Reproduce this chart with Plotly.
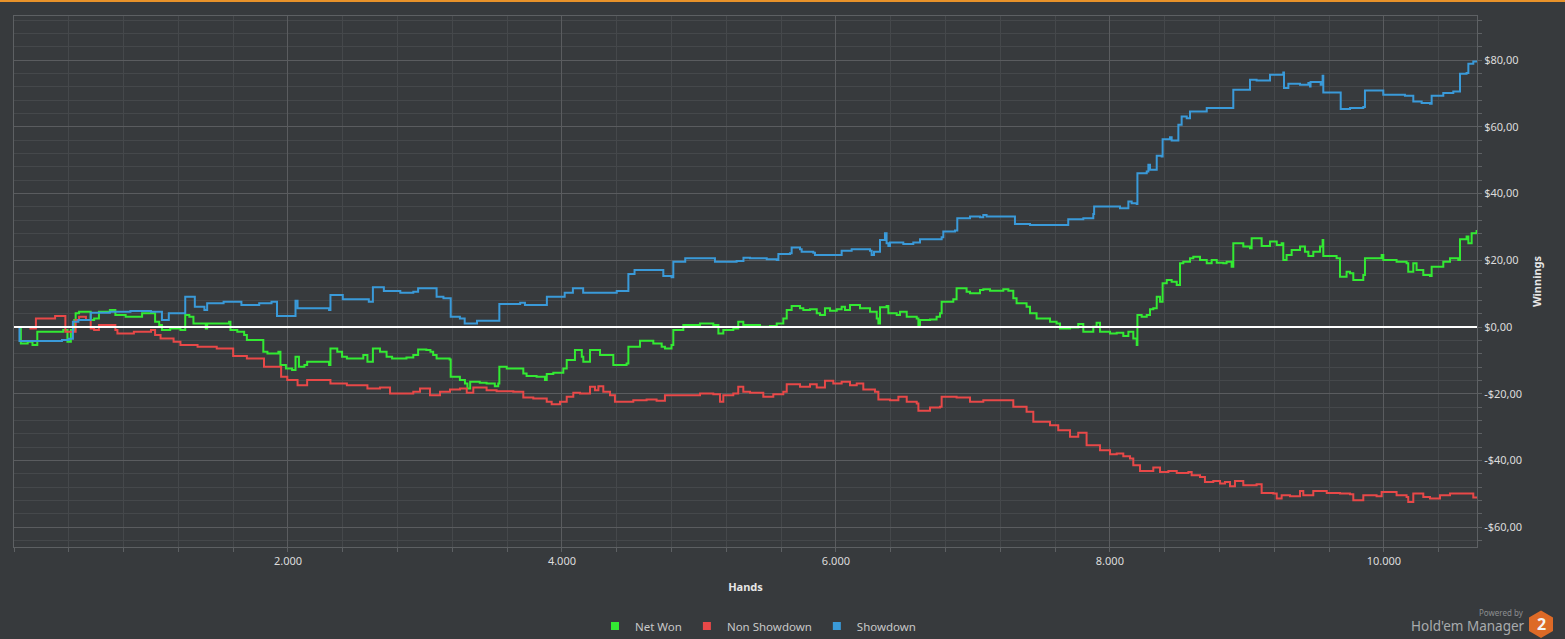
import plotly.graph_objects as go

# ---- data (hands, $ winnings) ----
sd_hands = [0, 40, 300, 350, 400, 430, 470, 560, 700, 850, 1000, 1080, 1130, 1250, 1320, 1390, 1410, 1530, 1660, 1790,
            1880, 1920, 2055, 2070, 2300, 2310, 2400, 2590, 2620, 2700, 2820, 2915, 2950, 3060, 3085, 3135, 3188, 3255,
            3290, 3380, 3543, 3695, 3730, 3890, 4020, 4080, 4155, 4400, 4485, 4530, 4705, 4740, 4800, 4813, 4900, 5117,
            5275, 5325, 5373, 5495, 5568, 5580, 5665, 5677, 5738, 5750, 5835, 5847, 6030, 6042, 6115, 6249, 6261, 6278,
            6322, 6358, 6370, 6383, 6395, 6492, 6565, 6614, 6711, 6772, 6784, 6869, 6886, 6979, 7052, 7076, 7100, 7295,
            7307, 7417, 7672, 7696, 7806, 7879, 7885, 8074, 8110, 8135, 8159, 8196, 8201, 8269, 8281, 8293, 8330, 8342,
            8378, 8385, 8439, 8451, 8488, 8500, 8524, 8561, 8585, 8682, 8707, 8889, 8901, 8974, 9023, 9071, 9144, 9169,
            9254, 9266, 9271, 9303, 9388, 9449, 9461, 9465, 9534, 9539, 9553, 9558, 9680, 9685, 9753, 9850, 9862, 9972,
            9996, 10154, 10215, 10276, 10337, 10349, 10434, 10507, 10543, 10556, 10604, 10617, 10653, 10677]
sd_values = [0, -4.2, -4.2, -3.9, -3.5, 1.6, 2.1, 4.3, 4.6, 4.8, 4.6, 2.1, 4.1, 9.1, 6.1, 5.1, 7.1, 7.6, 6.6, 7.1,
             7.6, 3.3, 7.9, 5.6, 5.1, 9.6, 8.3, 7.6, 11.9, 10.8, 10.3, 10.6, 11.6, 11.6, 9.1, 8.6, 3.1, 2.6,
             1.1, 1.9, 6.9, 7.3, 6.6, 9.1, 10.3, 11.6, 10.3, 10.8, 15.9, 17.1, 17.1, 15.3, 14.9, 19.6, 20.6, 19.6,
             19.8, 20.8, 20.6, 20.3, 20.1, 21.9, 22.1, 23.8, 23.3, 22.6, 22.3, 21.6, 21.6, 22.9, 23.3, 22.9, 21.6, 22.6,
             26.1, 28.1, 25.1, 24.3, 25.3, 24.9, 25.3, 26.3, 26.3, 26.9, 28.6, 28.9, 32.6, 33.1, 32.9, 33.6, 33.1, 33.1,
             30.9, 30.6, 30.6, 32.3, 32.6, 33.9, 36.1, 35.6, 35.6, 37.6, 37.1, 36.9, 46.1, 46.6, 48.6, 47.1, 47.1, 51.3,
             51.1, 56.3, 56.9, 55.9, 55.9, 60.6, 63.1, 62.6, 64.6, 64.6, 65.6, 65.6, 71.1, 71.1, 74.1, 73.9, 73.9, 75.6,
             75.6, 76.3, 71.6, 72.9, 72.6, 73.1, 72.1, 73.4, 73.4, 72.6, 75.3, 70.3, 70.3, 65.3, 65.6, 65.9, 70.9, 70.9,
             69.6, 69.3, 67.6, 67.1, 66.9, 69.3, 70.1, 70.6, 70.6, 75.9, 76.1, 78.9, 79.6, 79.9]

nsd_hands = [0, 120, 160, 290, 300, 365, 375, 425, 450, 475, 510, 525, 560, 585, 620, 730, 740, 755, 850, 875,
             970, 1000, 1030, 1070, 1140, 1165, 1215, 1310, 1340, 1480, 1590, 1600, 1680, 1700, 1800, 1825, 1950, 1995,
             2070, 2090, 2140, 2260, 2310, 2385, 2430, 2530, 2580, 2672, 2745, 2818, 2915, 2964, 3037, 3110, 3183, 3256,
             3305, 3353, 3450, 3523, 3645, 3718, 3791, 3889, 3925, 3986, 4035, 4083, 4132, 4205, 4241, 4266, 4302, 4351,
             4387, 4521, 4618, 4691, 4752, 4862, 5008, 5105, 5154, 5178, 5251, 5287, 5324, 5373, 5470, 5543, 5616, 5641,
             5738, 5811, 5860, 5920, 5981, 6042, 6103, 6152, 6200, 6285, 6310, 6395, 6456, 6517, 6590, 6602, 6687, 6760,
             6772, 6881, 6979, 7076, 7271, 7295, 7392, 7441, 7563, 7623, 7709, 7769, 7830, 7903, 7928, 8001, 8050, 8098,
             8147, 8171, 8220, 8293, 8317, 8366, 8427, 8488, 8573, 8597, 8658, 8694, 8755, 8804, 8840, 8877, 8913, 8974,
             9071, 9108, 9193, 9218, 9254, 9315, 9388, 9412, 9485, 9583, 9680, 9753, 9777, 9850, 9947, 9984, 10093,
             10166, 10178, 10215, 10288, 10337, 10410, 10483, 10580, 10653, 10677]
nsd_values = [0, -0.4, 2.6, 2.6, 3.3, 3.3, -1.4, -1.4, 2.1, 3.1, 3.1, 2.1, -0.4, -0.9, 0.6, 0.6, -0.9, -1.9, -1.9, -1.4,
              -1.4, -0.9, -2.4, -3.4, -3.4, -4.4, -5.4, -5.4, -5.9, -6.4, -6.4, -8.7, -8.7, -9.4, -9.4, -11.9, -14.9, -15.9,
              -17.4, -17.4, -15.9, -15.9, -16.9, -16.9, -17.4, -17.4, -18.4, -18.1, -19.9, -19.9, -19.4, -18.4, -20.4, -19.4, -18.7, -18.4,
              -19.7, -18.1, -18.9, -19.2, -19.4, -21.1, -21.4, -22.4, -23.1, -22.4, -20.9, -19.7, -19.9, -17.9, -18.9, -17.7, -19.4, -20.4,
              -22.4, -21.9, -21.7, -22.1, -20.4, -20.4, -19.9, -20.1, -22.4, -20.4, -19.9, -17.9, -19.4, -19.7, -20.9, -20.1, -19.4, -17.1,
              -17.9, -17.1, -18.1, -16.1, -16.9, -16.4, -17.4, -16.9, -18.7, -19.4, -21.7, -21.9, -20.9, -22.4, -22.9, -25.1, -24.1, -23.9,
              -20.9, -21.1, -22.4, -21.9, -21.9, -23.9, -25.4, -28.4, -29.4, -30.9, -32.9, -31.7, -35.4, -35.4, -36.9, -38.1, -37.9, -38.7,
              -39.4, -41.4, -43.1, -43.1, -42.1, -43.4, -43.1, -43.7, -43.4, -44.4, -44.9, -46.4, -46.1, -46.9, -46.4, -47.7, -46.1, -47.4,
              -47.1, -49.7, -49.9, -51.4, -50.4, -50.7, -49.1, -50.4, -49.1, -49.7, -49.9, -50.1, -51.9, -50.4, -50.7, -49.4, -50.4,
              -50.9, -52.4, -49.9, -50.9, -51.4, -50.4, -49.9, -49.9, -51.1, -51.4]

net_hands = [0, 50, 100, 135, 170, 340, 360, 390, 415, 440, 450, 475, 535, 560, 585, 620, 700, 740, 815, 935,
             1030, 1060, 1080, 1140, 1215, 1250, 1280, 1310, 1390, 1400, 1410, 1555, 1570, 1580, 1630, 1680, 1700, 1820,
             1850, 1930, 1945, 1985, 2030, 2055, 2080, 2120, 2140, 2280, 2300, 2310, 2360, 2395, 2430, 2550, 2580, 2620,
             2672, 2720, 2760, 2865, 2915, 2950, 3010, 3040, 3060, 3085, 3180, 3188, 3255, 3292, 3310, 3330, 3400, 3450,
             3510, 3535, 3543, 3597, 3694, 3718, 3742, 3815, 3876, 3889, 3937, 4010, 4035, 4095, 4145, 4156, 4205, 4278,
             4375, 4472, 4485, 4570, 4667, 4728, 4752, 4800, 4813, 4886, 5008, 5105, 5142, 5178, 5251, 5287, 5324, 5373,
             5446, 5519, 5568, 5616, 5641, 5677, 5738, 5762, 5811, 5860, 5884, 5920, 5957, 6006, 6042, 6066, 6103, 6176,
             6249, 6298, 6310, 6322, 6370, 6383, 6444, 6468, 6517, 6590, 6602, 6614, 6687, 6735, 6760, 6772, 6857, 6881,
             6954, 6979, 7052, 7076, 7125, 7222, 7259, 7295, 7319, 7392, 7417, 7465, 7563, 7611, 7636, 7709, 7769, 7806,
             7879, 7903, 7928, 8001, 8050, 8098, 8135, 8171, 8196, 8201, 8232, 8269, 8293, 8317, 8342, 8366, 8385, 8415,
             8451, 8488, 8512, 8536, 8585, 8609, 8658, 8707, 8743, 8780, 8828, 8852, 8889, 8901, 8974, 9023, 9035, 9084,
             9108, 9169, 9218, 9254, 9266, 9290, 9327, 9388, 9424, 9449, 9485, 9534, 9553, 9558, 9655, 9680, 9728, 9753,
             9777, 9850, 9862, 9947, 9984, 9996, 10093, 10166, 10178, 10215, 10239, 10288, 10337, 10349, 10434, 10483,
             10543, 10556, 10604, 10617, 10641, 10677]
net_values = [0, -4.9, -4.4, -5.4, -1.4, -1.4, -0.9, -4.4, -0.9, 2.1, 4.1, 4.6, 4.6, 2.1, 2.6, 4.6, 5.1, 3.6, 3.1, 4.1,
              1.6, 0.6, -0.9, -0.4, -0.9, 3.6, 3.1, 1.1, 1.1, -0.4, 1.1, 1.1, 1.6, -0.9, -1.4, -2.4, -3.9, -7.4,
              -7.9, -7.4, -11.4, -12.4, -12.9, -8.9, -11.9, -11.4, -10.4, -10.4, -11.4, -6.4, -7.4, -8.9, -9.4, -8.4, -10.4, -6.4,
              -7.4, -8.9, -9.4, -9.1, -8.4, -6.7, -6.9, -7.4, -8.4, -9.4, -9.7, -14.9, -15.9, -16.9, -18.4, -16.4, -16.7, -16.9,
              -17.7, -16.9, -11.9, -12.4, -12.4, -13.9, -14.7, -14.9, -15.9, -14.1, -13.7, -12.4, -9.9, -6.9, -8.9, -10.4, -6.9, -8.4,
              -11.4, -10.9, -5.9, -4.1, -4.9, -5.9, -6.4, -5.4, -0.9, 0.6, 1.1, 0.6, -1.9, -0.9, -0.4, 1.6, 0.6, 0.6,
              0.1, 0.3, 1.1, 2.6, 5.1, 6.3, 5.6, 5.1, 5.3, 4.1, 3.6, 5.6, 4.9, 5.3, 6.1, 5.1, 6.6, 5.6,
              4.6, 2.6, 1.1, 5.9, 6.3, 4.1, 3.6, 4.6, 3.1, 2.6, 0.3, 2.1, 2.3, 3.1, 4.1, 7.6, 8.3, 11.6,
              10.6, 10.1, 11.1, 11.3, 10.9, 11.3, 10.9, 8.6, 7.1, 6.1, 4.1, 2.6, 1.6, 1.1, -0.4, -0.1, 0.9, -1.4,
              0.1, 1.3, -1.4, -1.9, -1.7, -2.7, -1.4, -3.4, -5.4, 3.6, 3.1, 3.6, 5.3, 5.6, 9.1, 7.6, 13.1, 14.1,
              13.6, 12.6, 19.1, 19.6, 20.6, 21.1, 20.1, 19.1, 20.1, 19.3, 19.1, 19.6, 18.1, 25.1, 24.1, 23.6, 26.6, 26.6,
              24.3, 25.6, 24.6, 25.1, 20.1, 21.6, 23.1, 24.1, 22.6, 21.3, 22.6, 24.1, 26.1, 21.3, 20.6, 15.1, 16.6, 16.1,
              14.1, 15.6, 20.6, 20.6, 21.6, 20.1, 19.6, 19.1, 16.6, 19.1, 17.1, 15.6, 15.3, 18.1, 19.6, 20.6,
              20.1, 26.3, 27.1, 25.1, 28.1, 29.1]

x_tick_vals = [2000, 4000, 6000, 8000, 10000]
x_tick_text = ["2.000", "4.000", "6.000", "8.000", "10.000"]
y_tick_vals = [-60, -40, -20, 0, 20, 40, 60, 80]
y_tick_text = ["-$60,00", "-$40,00", "-$20,00", "$0,00", "$20,00", "$40,00", "$60,00", "$80,00"]

GREEN = "#33ea33"
RED = "#e84848"
BLUE = "#3a9ad9"
BG = "#373a3d"

# plot box in page pixels, used to place the decorations
L, T, R, B = 14, 16, 1477, 547
def px(x):
    return (x - L) / (R - L)
def py(y):
    return (B - y) / (B - T)

fig = go.Figure()
for hands, vals, col in [(net_hands, net_values, GREEN), (nsd_hands, nsd_values, RED), (sd_hands, sd_values, BLUE)]:
    fig.add_trace(go.Scatter(x=hands, y=vals, mode="lines", line=dict(color=col, width=2, shape="hv"),
                             showlegend=False, hoverinfo="skip"))

# legend entries with square swatches
for name, col in [("Net Won", GREEN), ("Non Showdown", RED), ("Showdown", BLUE)]:
    fig.add_trace(go.Scatter(x=[None], y=[None], mode="markers", name=name,
                             marker=dict(symbol="square", size=8, color=col)))

axis_common = dict(showgrid=True, gridcolor="#5a5c5f", gridwidth=1, showline=True, linecolor="#5d6063",
                   mirror=True, zeroline=False, ticks="outside", ticklen=4, tickcolor="#5d6063",
                   tickfont=dict(size=11, color="#dcdcdc"))

fig.update_xaxes(range=[0, 10680], tickvals=x_tick_vals, ticktext=x_tick_text,
                 minor=dict(dtick=400, tick0=0, showgrid=True, gridcolor="#45484b", ticks="outside",
                            ticklen=4, tickcolor="#5d6063"),
                 title=dict(text="<b>Hands</b>", font=dict(size=11, color="#e6e6e6"), standoff=16),
                 **axis_common)
fig.update_yaxes(range=[-65.9, 93.2], side="right", tickvals=y_tick_vals, ticktext=y_tick_text,
                 minor=dict(dtick=4, tick0=0, showgrid=True, gridcolor="#45484b", ticks="outside",
                            ticklen=4, tickcolor="#5d6063"),
                 title=dict(text="<b>Winnings</b>", font=dict(size=11, color="#e6e6e6"), standoff=12),
                 **axis_common)

shapes = [
    dict(type="line", xref="paper", yref="y", x0=0, x1=1, y0=0, y1=0,
         line=dict(color="white", width=2), layer="above"),
    dict(type="rect", xref="paper", yref="paper", x0=px(0), x1=px(1565), y0=py(2), y1=py(-1),
         line=dict(width=0), fillcolor="#e8922a", layer="above"),
]
hexpts = [(1541, 610.5), (1553, 617.5), (1553, 631), (1541, 638), (1529, 631), (1529, 617.5)]
path = "M " + " L ".join(f"{px(a):.5f},{py(b):.5f}" for a, b in hexpts) + " Z"
shapes.append(dict(type="path", xref="paper", yref="paper", path=path, fillcolor="#dd6a27",
                   line=dict(width=0)))

annotations = [
    dict(text="Powered by", x=px(1526), y=py(612), xref="paper", yref="paper", xanchor="right",
         yanchor="middle", showarrow=False, font=dict(size=8, color="#8c8e90")),
    dict(text="Hold'em Manager", x=px(1527), y=py(626), xref="paper", yref="paper", xanchor="right",
         yanchor="middle", showarrow=False, font=dict(size=13.5, color="#a9abad")),
    dict(text="<b>2</b>", x=px(1541), y=py(624), xref="paper", yref="paper", xanchor="center",
         yanchor="middle", showarrow=False, font=dict(size=16, color="#f4f4f4")),
]

fig.update_layout(
    width=1565, height=639,
    margin=dict(l=L, r=1565 - R, t=T, b=639 - B, autoexpand=False),
    paper_bgcolor=BG, plot_bgcolor=BG,
    font=dict(family="Noto Sans, Open Sans, sans-serif", size=11, color="#dcdcdc"),
    legend=dict(orientation="h", x=px(758), xanchor="center", y=py(626), yanchor="middle",
                font=dict(size=11.5, color="#c8c8c8"), itemwidth=30, bgcolor="rgba(0,0,0,0)"),
    shapes=shapes, annotations=annotations,
)

# page has a default 8px body margin; drop it so the figure fills the window
fig.write_html("out.html", config={"displayModeBar": False},
               post_script="document.body.style.margin='0px';")
